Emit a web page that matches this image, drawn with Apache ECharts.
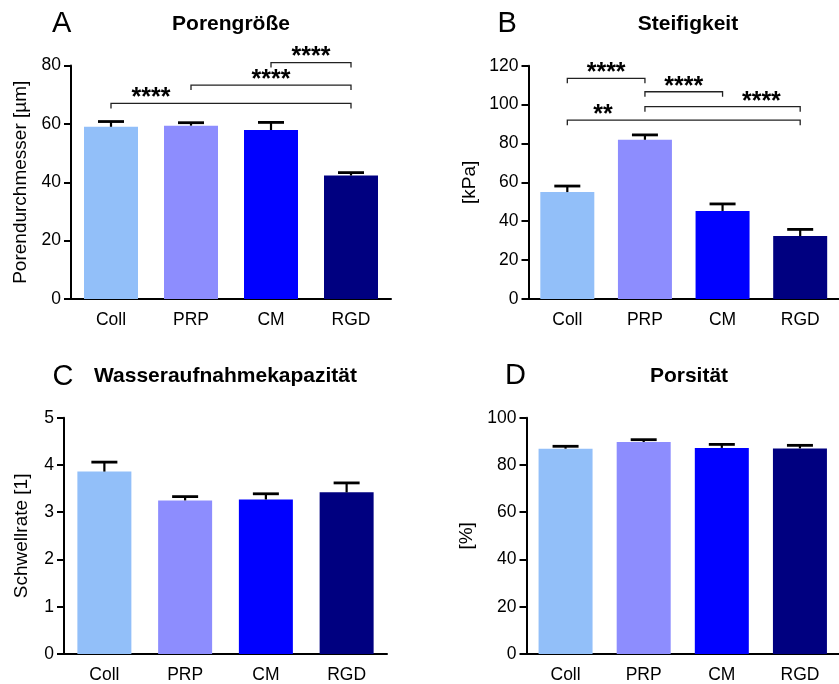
<!DOCTYPE html>
<html><head><meta charset="utf-8">
<script src="https://cdn.jsdelivr.net/npm/echarts@6/dist/echarts.min.js"></script>
<style>html,body{margin:0;padding:0;background:#fff}#c{width:839px;height:684px}</style>
</head><body><div id="c"></div>
<script>
// ---- data ----
const categories = ['Coll', 'PRP', 'CM', 'RGD'];
const barColors = ['#92BFF9', '#8D8DFE', '#0000FF', '#000080'];

// A: Porengröße
const poreMean = [59.0, 59.4, 57.9, 42.3];
const poreUpper = [60.8, 60.4, 60.5, 43.3];
const poreTicks = [0, 20, 40, 60, 80];
// [from, to, y, text, labelAt]
const poreSig = [[2, 3, 81.0, '****', null], [1, 3, 73.3, '****', null], [0, 3, 67.0, '****', 0.5]];

// B: Steifigkeit
const stiffMean = [55.0, 81.9, 45.3, 32.4];
const stiffUpper = [58.1, 84.4, 48.9, 35.8];
const stiffTicks = [0, 20, 40, 60, 80, 100, 120];
const stiffSig = [[0, 1, 113.5, '****', null], [1, 2, 106.6, '****', null], [1, 3, 98.9, '****', 2.5], [0, 3, 92.0, '**', 0.46]];

// C: Wasseraufnahmekapazität
const swellMean = [3.86, 3.25, 3.27, 3.42];
const swellUpper = [4.06, 3.33, 3.39, 3.62];
const swellTicks = [0, 1, 2, 3, 4, 5];

// D: Porsität
const porosMean = [86.9, 89.7, 87.2, 87.0];
const porosUpper = [87.9, 90.7, 88.7, 88.3];
const porosTicks = [0, 20, 40, 60, 80, 100];

// ---- chart ----
const FONT = '"Liberation Sans", Arial, sans-serif';
const chart = echarts.init(document.getElementById('c'), null, {renderer: 'canvas'});

const panels = [
  {grid: {left: 71, top: 65.5, width: 320, height: 233.5}, mean: poreMean, upper: poreUpper, ticks: poreTicks, sig: poreSig, name: 'Porendurchmesser [µm]', nameGap: 41},
  {grid: {left: 528.5, top: 65.7, width: 320, height: 233.3}, mean: stiffMean, upper: stiffUpper, ticks: stiffTicks, sig: stiffSig, name: '[kPa]', nameGap: 49},
  {grid: {left: 64, top: 417.7, width: 323, height: 236.6}, mean: swellMean, upper: swellUpper, ticks: swellTicks, sig: [], name: 'Schwellrate [1]', nameGap: 33},
  {grid: {left: 526.5, top: 417.7, width: 324, height: 236.6}, mean: porosMean, upper: porosUpper, ticks: porosTicks, sig: [], name: '[%]', nameGap: 50}
];

function errRender(upper) {
  return function (params, api) {
    const i = params.dataIndex;
    const pm = api.coord([i, api.value(1)]);
    const pu = api.coord([i, upper[i]]);
    return {type: 'group', children: [
      {type: 'line', shape: {x1: pm[0], y1: pm[1], x2: pu[0], y2: pu[1]}, style: {stroke: '#000', lineWidth: 2.2}},
      {type: 'line', shape: {x1: pu[0] - 13, y1: pu[1], x2: pu[0] + 13, y2: pu[1]}, style: {stroke: '#000', lineWidth: 2.8}}
    ]};
  };
}

function sigRender(list) {
  return function (params, api) {
    const b = list[params.dataIndex];
    const pL = api.coord([b[0], b[2]]);
    const pR = api.coord([b[1], b[2]]);
    const at = b[4] != null ? b[4] : (b[0] + b[1]) / 2;
    const f = Math.floor(at), c = Math.ceil(at);
    const x0 = api.coord([f, b[2]])[0], x1 = api.coord([c, b[2]])[0];
    const tx = x0 + (x1 - x0) * (at - f);
    const t = 5;
    return {type: 'group', children: [
      {type: 'polyline', shape: {points: [[pL[0], pL[1] + t], [pL[0], pL[1]], [pR[0], pR[1]], [pR[0], pR[1] + t]]},
        style: {stroke: '#222', lineWidth: 1.3, fill: null}},
      {type: 'text', x: tx, y: pL[1] - 5,
        style: {text: b[3], font: 'bold 25px ' + FONT, align: 'center', verticalAlign: 'middle', textAlign: 'center', textVerticalAlign: 'middle', fill: '#000'}}
    ]};
  };
}

const option = {
  backgroundColor: '#fff',
  animation: false,
  grid: [], xAxis: [], yAxis: [], series: [],
  graphic: []
};

panels.forEach((p, k) => {
  option.grid.push(Object.assign({containLabel: false}, p.grid));
  option.xAxis.push({
    type: 'category', gridIndex: k, data: categories,
    axisLine: {show: true, lineStyle: {color: '#000', width: 2}},
    axisTick: {show: false},
    axisLabel: {color: '#000', fontSize: 17.5, fontFamily: FONT, margin: 12, interval: 0},
    splitLine: {show: false}
  });
  const tk = p.ticks;
  option.yAxis.push({
    type: 'value', gridIndex: k,
    min: tk[0], max: tk[tk.length - 1], interval: tk[1] - tk[0],
    axisLine: {show: true, lineStyle: {color: '#000', width: 2}},
    axisTick: {show: true, length: 7, lineStyle: {color: '#000', width: 2}},
    axisLabel: {color: '#000', fontSize: 17.5, fontFamily: FONT, margin: 10},
    splitLine: {show: false},
    name: p.name, nameLocation: 'middle', nameGap: p.nameGap,
    nameTextStyle: {color: '#000', fontSize: 19, fontFamily: FONT}
  });
  option.series.push({
    type: 'bar', xAxisIndex: k, yAxisIndex: k, barWidth: 54, z: 2,
    data: p.mean.map((v, i) => ({value: v, itemStyle: {color: barColors[i]}}))
  });
  option.series.push({
    type: 'custom', xAxisIndex: k, yAxisIndex: k, z: 5,
    renderItem: errRender(p.upper),
    data: p.mean.map((v, i) => [i, v])
  });
  if (p.sig.length) {
    option.series.push({
      type: 'custom', xAxisIndex: k, yAxisIndex: k, z: 5, clip: false,
      renderItem: sigRender(p.sig),
      data: p.sig.map(b => [b[0], b[2]])
    });
  }
});

const texts = [
  ['A', 52, 23.5, 'normal', 29, 'left'],
  ['Porengröße', 231, 24.5, 'bold', 21, 'center'],
  ['B', 497.5, 23.5, 'normal', 29, 'left'],
  ['Steifigkeit', 688, 24.5, 'bold', 21, 'center'],
  ['C', 52.5, 377, 'normal', 29, 'left'],
  ['Wasseraufnahmekapazität', 225.5, 376, 'bold', 21, 'center'],
  ['D', 505, 375.5, 'normal', 29, 'left'],
  ['Porsität', 689, 376, 'bold', 21, 'center']
];
texts.forEach(t => {
  option.graphic.push({
    type: 'text', left: undefined, x: t[1], y: t[2],
    style: {text: t[0], font: t[3] + ' ' + t[4] + 'px ' + FONT, fill: '#000', textAlign: t[5], textVerticalAlign: 'middle', align: t[5], verticalAlign: 'middle'}
  });
});

chart.setOption(option);
</script>
</body></html>
